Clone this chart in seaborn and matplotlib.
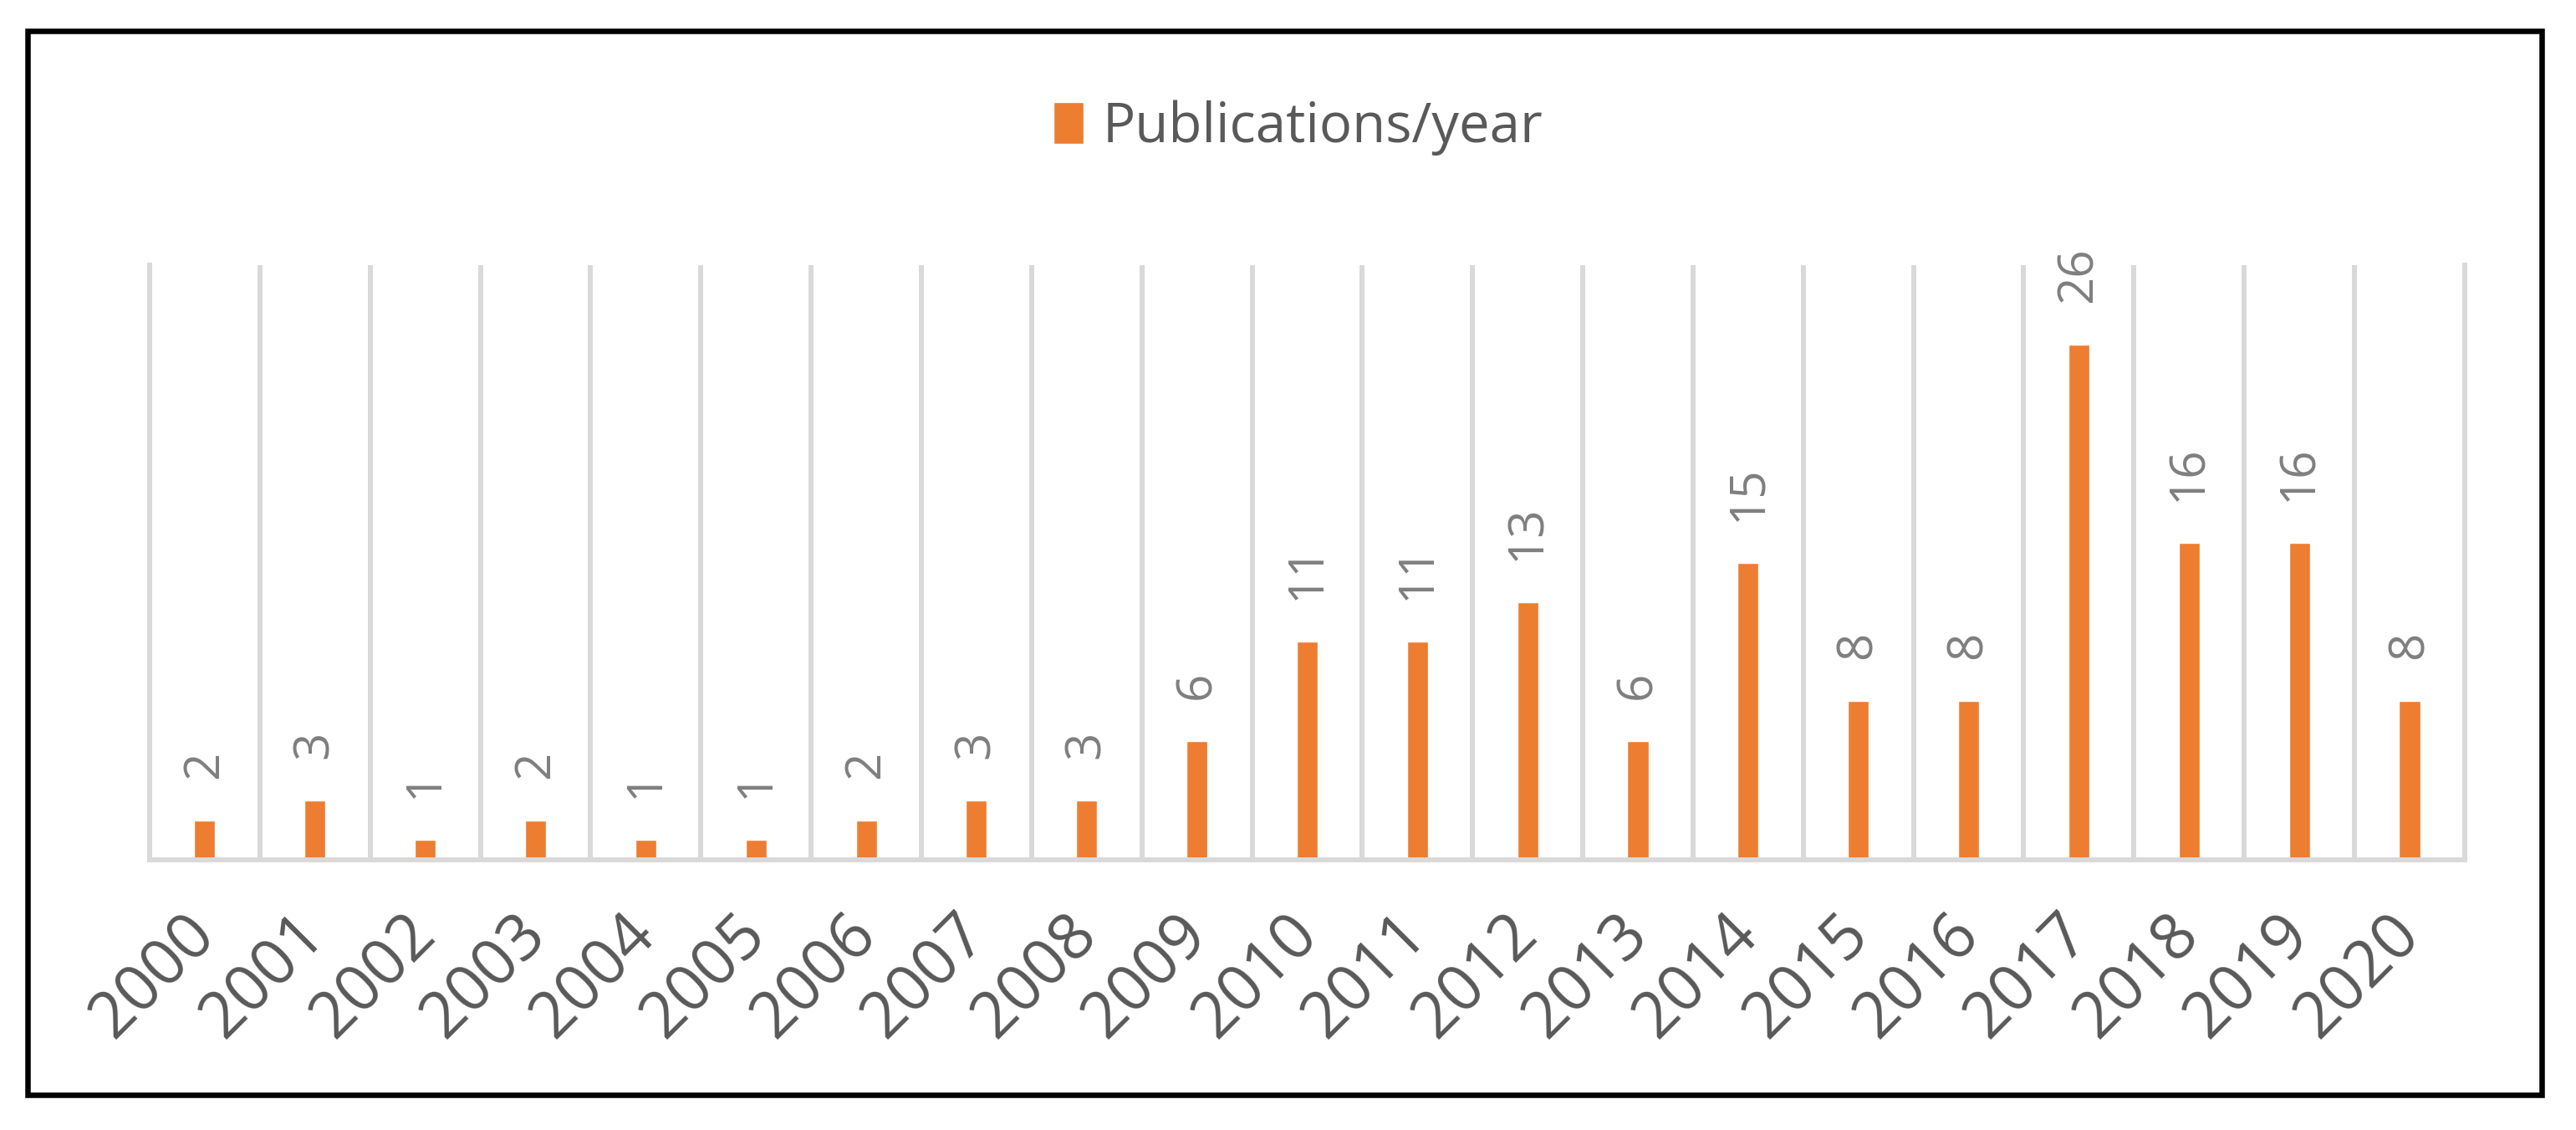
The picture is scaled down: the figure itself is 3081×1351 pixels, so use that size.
import pandas as pd
import matplotlib.pyplot as plt
import matplotlib.patches as patches
import seaborn as sns

# Chart data
years = ["2000", "2001", "2002", "2003", "2004", "2005", "2006", "2007", "2008", "2009", "2010",
         "2011", "2012", "2013", "2014", "2015", "2016", "2017", "2018", "2019", "2020"]
publications = [2, 3, 1, 2, 1, 1, 2, 3, 3, 6, 11, 11, 13, 6, 15, 8, 8, 26, 16, 16, 8]
series_name = "Publications/year"

BAR_COLOR = "#ED7D31"
GRID_COLOR = "#D9D9D9"
LABEL_COLOR = "#7F7F7F"
TEXT_COLOR = "#595959"

sns.set_style("white")
plt.rcParams["font.family"] = ["Open Sans", "DejaVu Sans"]

df = pd.DataFrame({"year": years, "count": publications})

fig = plt.figure(figsize=(30.81, 13.51), dpi=100)
ax = fig.add_axes([0.0581, 0.2391, 0.8987, 0.5262])

sns.barplot(data=df, x="year", y="count", color=BAR_COLOR, saturation=1,
            width=0.19, label=series_name, ax=ax)

ax.set_xlim(-0.5, len(years) - 0.5)
ax.set_ylim(0, 30)
ax.set_xlabel("")
ax.set_ylabel("")
ax.set_yticks([])

# vertical gridlines between categories
ax.set_xticks([i + 0.5 for i in range(len(years) - 1)], minor=True)
ax.grid(False)
ax.grid(axis="x", which="minor", color=GRID_COLOR, linewidth=4.3)
ax.tick_params(axis="x", which="both", length=0)
for side in ["left", "right", "bottom"]:
    ax.spines[side].set_visible(True)
    ax.spines[side].set_color(GRID_COLOR)
    ax.spines[side].set_linewidth(4.3)
ax.spines["top"].set_visible(False)

# year labels
ax.set_xticks(range(len(years)))
ax.set_xticklabels(years, rotation=45, ha="right", va="center", rotation_mode="anchor",
                   fontsize=55, fontweight="medium", color=TEXT_COLOR)
ax.tick_params(axis="x", which="major", pad=56)

# value labels
for cont in ax.containers:
    ax.bar_label(cont, rotation=90, padding=36, fontsize=42, color=LABEL_COLOR)

# legend on top
leg = ax.legend(loc="center", bbox_to_anchor=(0.504, 0.887), bbox_transform=fig.transFigure,
                frameon=False, fontsize=47, handlelength=0.55, handleheight=0.8,
                handletextpad=0.35)
for t in leg.get_texts():
    t.set_color(TEXT_COLOR)

# black frame around the whole chart
frame = patches.Rectangle((0.0107, 0.0311), 0.976, 0.9415, transform=fig.transFigure,
                          fill=False, edgecolor="black", linewidth=4.7)
fig.patches.append(frame)

fig.savefig("out.png", dpi=100, facecolor="white")
